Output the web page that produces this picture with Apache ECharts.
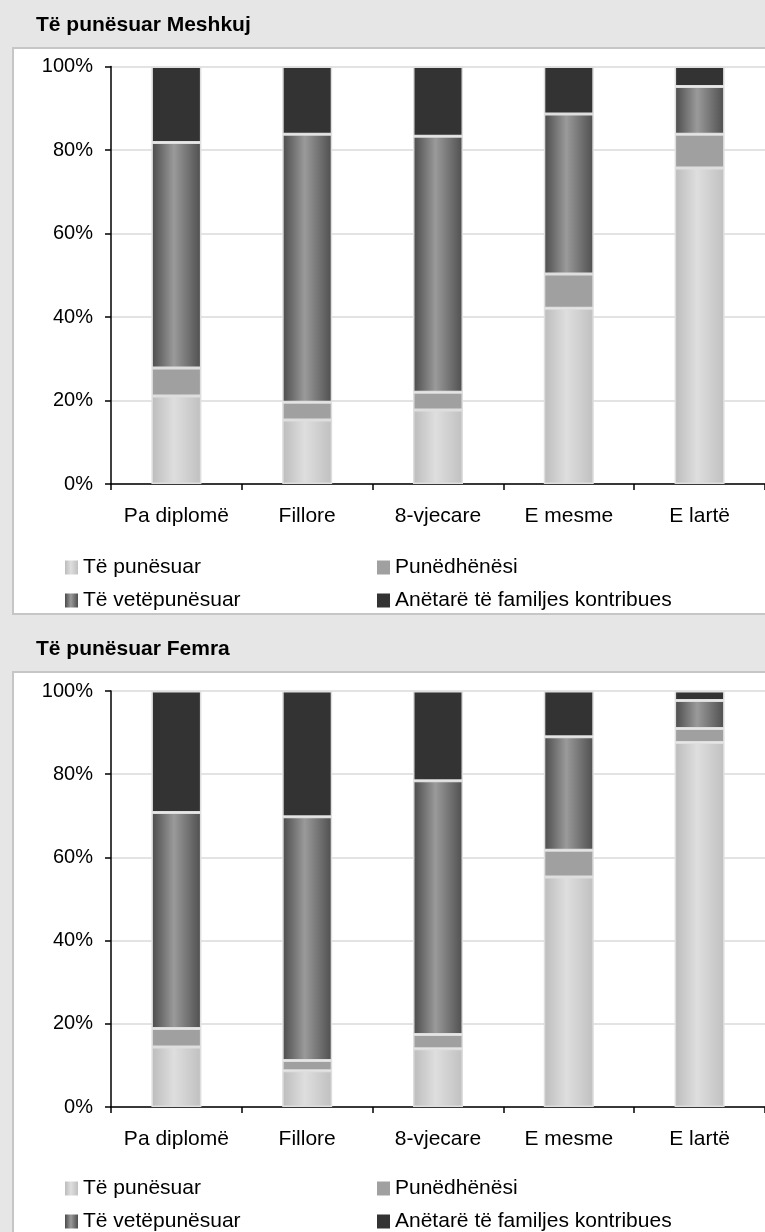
<!DOCTYPE html>
<html>
<head>
<meta charset="utf-8">
<script src="https://cdn.jsdelivr.net/npm/echarts@6/dist/echarts.min.js"></script>
<style>
html,body{margin:0;padding:0;background:#e6e6e6;}
#c{width:765px;height:1232px;}
</style>
</head>
<body>
<div id="c"></div>
<script>
// ---- data ----
const categories = ['Pa diplomë', 'Fillore', '8-vjecare', 'E mesme', 'E lartë'];
const seriesNames = ['Të punësuar', 'Punëdhënësi', 'Të vetëpunësuar', 'Anëtarë të familjes kontribues'];
const yTicks = [0, 20, 40, 60, 80, 100];
const titles = ['Të punësuar Meshkuj', 'Të punësuar Femra'];

// Meshkuj (males), percent
const maleEmployee   = [21.1, 15.3, 17.7, 42.1, 75.7];
const maleEmployer   = [6.7, 4.3, 4.3, 8.2, 8.1];
const maleSelf       = [54.0, 64.2, 61.3, 38.3, 11.4];
const maleFamily     = [18.2, 16.2, 16.7, 11.4, 4.8];

// Femra (females), percent
const femaleEmployee = [14.4, 8.7, 14.0, 55.3, 87.6];
const femaleEmployer = [4.5, 2.5, 3.4, 6.4, 3.4];
const femaleSelf     = [51.9, 58.6, 61.0, 27.3, 6.7];
const femaleFamily   = [29.2, 30.2, 21.6, 11.0, 2.3];

// ---- styles ----
const FONT = "'Liberation Sans', Arial, sans-serif";
const grad = (a, b, c) => new echarts.graphic.LinearGradient(0, 0, 1, 0, [
  {offset: 0, color: a}, {offset: 0.45, color: b}, {offset: 1, color: c}
]);
const colors = [
  grad('#bcbcbc', '#dedede', '#c0c0c0'),
  '#a0a0a0',
  grad('#4a4a4a', '#9a9a9a', '#4e4e4e'),
  '#333333'
];

const chart = echarts.init(document.getElementById('c'), null, {renderer: 'canvas'});

const panels = [
  {top: 48, titleTop: 15, gridTop: 66.5, gridH: 417.5, legendTop: 557},
  {top: 672, titleTop: 639, gridTop: 691, gridH: 416, legendTop: 1178}
];
const groups = [
  [maleEmployee, maleEmployer, maleSelf, maleFamily],
  [femaleEmployee, femaleEmployer, femaleSelf, femaleFamily]
];

const option = {
  backgroundColor: '#e6e6e6',
  animation: false,
  textStyle: {fontFamily: FONT},
  graphic: panels.map(p => ({
    type: 'rect', z: -10, silent: true,
    shape: {x: 13, y: p.top, width: 770, height: 566},
    style: {fill: '#ffffff', stroke: '#c6c6c6', lineWidth: 2}
  })),
  title: panels.map((p, i) => ({
    text: titles[i], left: 36, top: p.titleTop, padding: 0,
    textStyle: {fontFamily: FONT, fontWeight: 'bold', fontSize: 21, color: '#000'}
  })),
  legend: [],
  grid: panels.map(p => ({left: 111, top: p.gridTop, width: 657, height: p.gridH, containLabel: false})),
  xAxis: panels.map((p, i) => ({
    type: 'category', gridIndex: i, data: categories,
    axisLine: {lineStyle: {color: '#000', width: 1.5}},
    axisTick: {show: true, length: 6, alignWithLabel: false, lineStyle: {color: '#000', width: 1.5}},
    axisLabel: {color: '#000', fontSize: 21, fontFamily: FONT, margin: 22, interval: 0},
    splitLine: {show: false}
  })),
  yAxis: panels.map((p, i) => ({
    type: 'value', gridIndex: i, min: 0, max: 100, interval: 20,
    axisLine: {show: true, lineStyle: {color: '#000', width: 1.5}},
    axisTick: {show: true, length: 6, lineStyle: {color: '#000', width: 1.5}},
    axisLabel: {color: '#000', fontSize: 20, fontFamily: FONT, margin: 18,
      formatter: v => yTicks.includes(v) ? v + '%' : ''},
    splitLine: {show: true, lineStyle: {color: '#dadada', width: 1.5}}
  })),
  series: []
};

panels.forEach((p, gi) => {
  const legendBase = {
    orient: 'vertical', itemWidth: 13, itemHeight: 14, itemGap: 12,
    top: p.legendTop, padding: 0, icon: 'rect', selectedMode: false,
    itemStyle: {borderWidth: 0},
    textStyle: {fontFamily: FONT, fontSize: 21, color: '#000', lineHeight: 21}
  };
  option.legend.push(Object.assign({}, legendBase, {left: 65, data: [seriesNames[0], seriesNames[2]]}));
  option.legend.push(Object.assign({}, legendBase, {left: 377, data: [seriesNames[1], seriesNames[3]]}));
  groups[gi].forEach((vals, si) => {
    option.series.push({
      type: 'bar', name: seriesNames[si], stack: 's' + gi,
      xAxisIndex: gi, yAxisIndex: gi,
      barWidth: 50, data: vals,
      itemStyle: {color: colors[si], borderColor: '#dedede', borderWidth: 1.5}
    });
  });
});

chart.setOption(option);
</script>
</body>
</html>
